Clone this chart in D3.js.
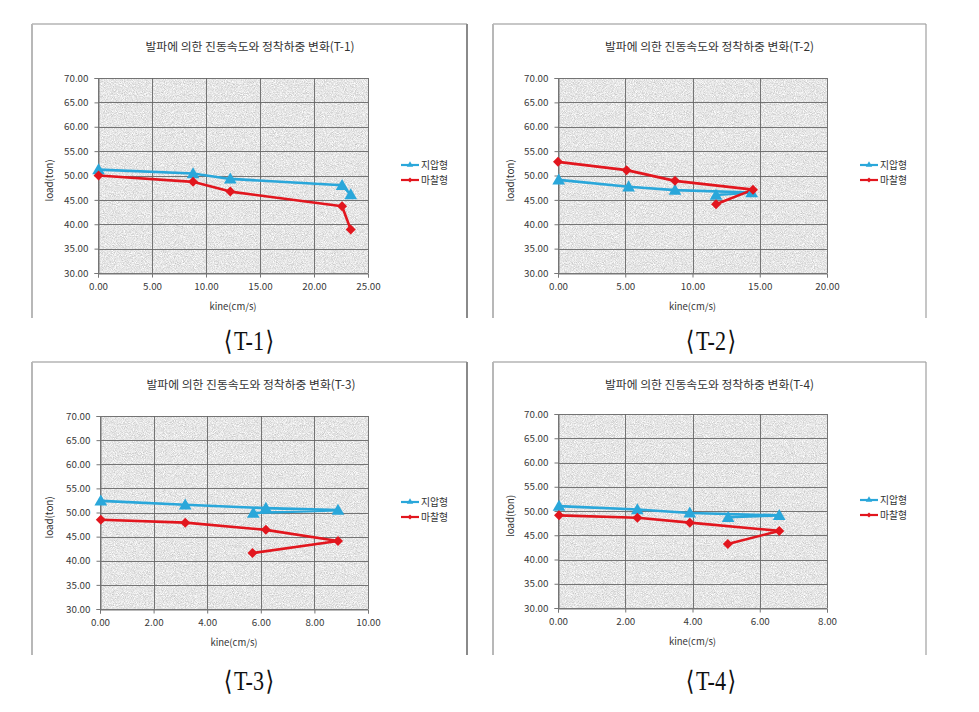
<!DOCTYPE html>
<html><head><meta charset="utf-8">
<script src="https://cdn.jsdelivr.net/npm/d3@7"></script>
<style>html,body{margin:0;padding:0;background:#fff;}svg{display:block;}</style>
</head><body>
<script>
// ---------------- DATA ----------------
const panelNames = ["T-1", "T-2", "T-3", "T-4"];
const seriesNames = ["지압형", "마찰형"];
const chartTitlePrefix = "발파에 의한 진동속도와 정착하중 변화";
const xAxisTitle = "kine(cm/s)";
const yAxisTitle = "load(ton)";
const yTicks = [30, 35, 40, 45, 50, 55, 60, 65, 70];
const xTicksT1 = [0, 5, 10, 15, 20, 25];
const xTicksT2 = [0, 5, 10, 15, 20];
const xTicksT3 = [0, 2, 4, 6, 8, 10];
const xTicksT4 = [0, 2, 4, 6, 8];
// [kine, load] pairs, in drawing order
const t1Jiap  = [[0.05, 51.2], [8.8, 50.4], [12.25, 49.3], [22.6, 48.0], [23.4, 46.1]];
const t1Machal = [[0.05, 50.0], [8.8, 48.7], [12.25, 46.7], [22.6, 43.7], [23.4, 38.9]];
const t2Jiap  = [[0.05, 49.1], [5.25, 47.7], [8.7, 47.0], [14.4, 46.5], [11.75, 46.0]];
const t2Machal = [[0.0, 52.8], [5.1, 51.1], [8.7, 48.9], [14.5, 47.1], [11.75, 44.1]];
const t3Jiap  = [[0.03, 52.4], [3.18, 51.6], [6.19, 50.9], [8.88, 50.5], [5.72, 49.9]];
const t3Machal = [[0.03, 48.5], [3.18, 47.9], [6.19, 46.4], [8.88, 44.1], [5.69, 41.6]];
const t4Jiap  = [[0.03, 51.0], [2.36, 50.3], [3.92, 49.6], [6.58, 49.1], [5.06, 48.7]];
const t4Machal = [[0.03, 49.1], [2.36, 48.6], [3.92, 47.6], [6.58, 45.9], [5.05, 43.2]];

// ---------------- LAYOUT ----------------
const W = 979, H = 712;
const colors = ["#2aa7da", "#e2161e"];
const panels = [
  {name: panelNames[0], xTicks: xTicksT1, series: [t1Jiap, t1Machal], fx: 32, fy: 24, fw: 435, fh: 294, px0: 98, px1: 368, py0: 78, py1: 273},
  {name: panelNames[1], xTicks: xTicksT2, series: [t2Jiap, t2Machal], fx: 493, fy: 24, fw: 433, fh: 294, px0: 558, px1: 827, py0: 78, py1: 273},
  {name: panelNames[2], xTicks: xTicksT3, series: [t3Jiap, t3Machal], fx: 32, fy: 362, fw: 435, fh: 293, px0: 100, px1: 368, py0: 416, py1: 609},
  {name: panelNames[3], xTicks: xTicksT4, series: [t4Jiap, t4Machal], fx: 493, fy: 362, fw: 433, fh: 293, px0: 558, px1: 827, py0: 414, py1: 608}
];
const captionPos = [[249, 341], [711, 341], [249, 681], [711, 681]];
const FONT = "'Noto Sans CJK KR', 'Noto Sans', sans-serif";

const svg = d3.select("body").append("svg").attr("width", W).attr("height", H);
svg.append("rect").attr("width", W).attr("height", H).attr("fill", "#fff");

const defs = svg.append("defs");
const f = defs.append("filter").attr("id", "granite")
  .attr("x", 0).attr("y", 0).attr("width", 1).attr("height", 1)
  .attr("color-interpolation-filters", "sRGB");
f.append("feTurbulence").attr("type", "fractalNoise").attr("baseFrequency", 1.1)
  .attr("numOctaves", 2).attr("seed", 7).attr("result", "n");
f.append("feColorMatrix").attr("type", "matrix")
  .attr("values", "1 0 0 0 0  1 0 0 0 0  1 0 0 0 0  0 0 0 0 1");
const ct = f.append("feComponentTransfer");
["feFuncR", "feFuncG", "feFuncB"].forEach(t =>
  ct.append(t).attr("type", "linear").attr("slope", 0.36).attr("intercept", 0.72));

const triangle = d3.symbol().type(d3.symbolTriangle).size(70);
const diamond = d3.symbol().type(d3.symbolSquare).size(50);
const triSmall = d3.symbol().type(d3.symbolTriangle).size(18);
const diaSmall = d3.symbol().type(d3.symbolSquare).size(12);

panels.forEach((p, i) => {
  const g = svg.append("g");
  // frame (top, left, right)
  g.append("line").attr("x1", p.fx).attr("x2", p.fx + p.fw).attr("y1", p.fy).attr("y2", p.fy)
    .attr("stroke", "#b4b4b4").attr("stroke-width", 1.5);
  g.append("line").attr("x1", p.fx).attr("x2", p.fx).attr("y1", p.fy).attr("y2", p.fy + p.fh)
    .attr("stroke", "#b8b8b8").attr("stroke-width", 2);
  g.append("line").attr("x1", p.fx + p.fw).attr("x2", p.fx + p.fw).attr("y1", p.fy).attr("y2", p.fy + p.fh)
    .attr("stroke", i % 2 === 0 ? "#8a8a8a" : "#a0a0a0").attr("stroke-width", i % 2 === 0 ? 2 : 1.2);

  const x = d3.scaleLinear().domain([p.xTicks[0], p.xTicks[p.xTicks.length - 1]]).range([p.px0, p.px1]);
  const y = d3.scaleLinear().domain([yTicks[0], yTicks[yTicks.length - 1]]).range([p.py1, p.py0]);

  // plot background
  g.append("rect").attr("x", p.px0).attr("y", p.py0).attr("width", p.px1 - p.px0).attr("height", p.py1 - p.py0)
    .attr("filter", "url(#granite)").attr("fill", "#ddd");

  // gridlines
  g.append("g").selectAll("line").data(yTicks).join("line")
    .attr("x1", p.px0).attr("x2", p.px1).attr("y1", d => Math.round(y(d)) + 0.5).attr("y2", d => Math.round(y(d)) + 0.5)
    .attr("stroke", "#666").attr("stroke-width", 0.9);
  g.append("g").selectAll("line").data(p.xTicks).join("line")
    .attr("y1", p.py0).attr("y2", p.py1).attr("x1", d => Math.round(x(d)) + 0.5).attr("x2", d => Math.round(x(d)) + 0.5)
    .attr("stroke", "#666").attr("stroke-width", 0.9);

  // axes
  const ya = g.append("g").attr("transform", `translate(${Math.round(p.px0) + 0.5},0)`)
    .call(d3.axisLeft(y).tickValues(yTicks).tickFormat(d3.format(".2f")).tickSize(4).tickPadding(6));
  const xa = g.append("g").attr("transform", `translate(0,${Math.round(p.py1) + 0.5})`)
    .call(d3.axisBottom(x).tickValues(p.xTicks).tickFormat(d3.format(".2f")).tickSize(4).tickPadding(6));
  [ya, xa].forEach(a => {
    a.select(".domain").attr("stroke", "#777");
    a.selectAll(".tick line").attr("stroke", "#777");
    a.selectAll(".tick text").attr("fill", "#3a3a3a").style("font-family", FONT).style("font-size", "9.8px");
  });

  // titles
  const cx = (p.px0 + p.px1) / 2;
  g.append("text").attr("x", cx + 17).attr("y", p.fy + 27).attr("text-anchor", "middle")
    .style("font-family", FONT).style("font-size", "11.8px").attr("fill", "#333")
    .text(`${chartTitlePrefix}(${p.name})`);
  g.append("text").attr("x", cx).attr("y", p.py1 + 37).attr("text-anchor", "middle")
    .style("font-family", FONT).style("font-size", "9.5px").attr("fill", "#333").text(xAxisTitle);
  g.append("text").attr("transform", `translate(${p.fx + 21},${(p.py0 + p.py1) / 2 + 5}) rotate(-90)`)
    .attr("text-anchor", "middle").style("font-family", FONT).style("font-size", "9.8px").attr("fill", "#333")
    .text(yAxisTitle);

  // series
  const line = d3.line().x(d => x(d[0])).y(d => y(d[1]));
  p.series.forEach((s, k) => {
    g.append("path").datum(s).attr("d", line).attr("fill", "none")
      .attr("stroke", colors[k]).attr("stroke-width", 2.6).attr("stroke-linejoin", "round");
  });
  p.series.forEach((s, k) => {
    g.append("g").selectAll("path").data(s).join("path")
      .attr("d", k === 0 ? triangle : diamond)
      .attr("transform", d => `translate(${x(d[0])},${y(d[1]) + (k === 0 ? 1 : 0)})${k === 1 ? " rotate(45)" : ""}`)
      .attr("fill", colors[k]);
  });

  // legend
  const lx = p.px1 + 33, ly = p.py0 + (i < 2 ? 87 : 86);
  seriesNames.forEach((nm, k) => {
    const yy = ly + k * 15;
    g.append("line").attr("x1", lx).attr("x2", lx + 18).attr("y1", yy).attr("y2", yy)
      .attr("stroke", colors[k]).attr("stroke-width", 2.2);
    g.append("path").attr("d", k === 0 ? triSmall : diaSmall)
      .attr("transform", `translate(${lx + 9},${yy})${k === 1 ? " rotate(45)" : ""}`).attr("fill", colors[k]);
    g.append("text").attr("x", lx + 20).attr("y", yy + 3.5)
      .style("font-family", FONT).style("font-size", "9.8px").attr("fill", "#333").text(nm);
  });

  // caption
  const cap = svg.append("text")
    .attr("transform", `translate(${captionPos[i][0]},${captionPos[i][1] + 9}) scale(0.82,1)`)
    .attr("text-anchor", "middle")
    .style("font-family", "'Liberation Serif', 'DejaVu Serif', serif").style("font-size", "27px").attr("fill", "#111");
  cap.append("tspan").style("font-family", "'DejaVu Serif', serif").style("font-weight", "200").text("⟨");
  cap.append("tspan").attr("dx", 2).text(p.name);
  cap.append("tspan").attr("dx", 2).style("font-family", "'DejaVu Serif', serif").text("⟩");
});
</script>
</body></html>
